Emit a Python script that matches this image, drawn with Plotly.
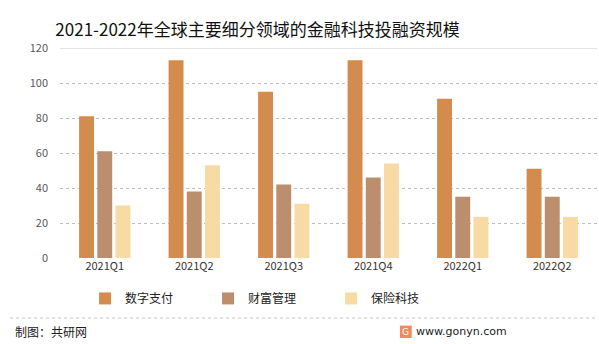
import plotly.graph_objects as go

categories = ["2021Q1", "2021Q2", "2021Q3", "2021Q4", "2022Q1", "2022Q2"]
digital_payment = [81, 113, 95, 113, 91, 51]
wealth_mgmt = [61, 38, 42, 46, 35, 35]
insurtech = [30, 53, 31, 54, 23.5, 23.5]
series_names = ["数字支付", "财富管理", "保险科技"]
y_ticks = [0, 20, 40, 60, 80, 100, 120]

colors = ["#D38C4E", "#BB8F6D", "#F8DAA5"]
FONT = "Noto Sans CJK SC"

fig = go.Figure()
for name, vals, c in zip(series_names, [digital_payment, wealth_mgmt, insurtech], colors):
    fig.add_trace(go.Bar(x=categories, y=vals, name=name, marker=dict(color=c, line=dict(width=0)),
                         hoverinfo="x+y+name"))

fig.update_layout(
    width=599, height=344,
    margin=dict(l=60, r=2, t=48, b=86),
    paper_bgcolor="white", plot_bgcolor="white",
    barmode="group", bargap=0.39, bargroupgap=0.18,
    font=dict(family=FONT, size=11, color="#595959"),
    title=dict(text="2021-2022年全球主要细分领域的金融科技投融资规模", x=0.43, xanchor="center",
               y=0.913, yanchor="middle", font=dict(family=FONT, size=17, color="#111111")),
    xaxis=dict(showgrid=False, showline=False, ticks="", tickfont=dict(size=11, color="#333333")),
    yaxis=dict(range=[0, 120], tickvals=y_ticks, showgrid=True, gridcolor="#BFBFBF", griddash="dot",
               gridwidth=1, zeroline=False, showline=False, ticks="", ticklabelstandoff=11,
               tickfont=dict(size=11, color="#595959")),
    showlegend=True,
    legend=dict(orientation="h", xref="container", yref="container", x=0.142, y=0.1325,
                xanchor="left", yanchor="middle", entrywidth=78, entrywidthmode="pixels",
                font=dict(family=FONT, size=12, color="#222222"), bgcolor="rgba(0,0,0,0)"),
    shapes=[
        dict(type="line", xref="paper", yref="y", x0=0, x1=1, y0=120, y1=120,
             line=dict(color="#D9D9D9", width=1.5)),
        dict(type="line", xref="paper", yref="paper", x0=-0.093, x1=1.0, y0=-0.286, y1=-0.286,
             line=dict(color="#C8C8C8", width=1, dash="dot")),
        dict(type="rect", xref="paper", yref="paper", x0=0.633, x1=0.655, y0=-0.381, y1=-0.322,
             fillcolor="#F08A5D", line=dict(width=0), layer="above"),
    ],
    annotations=[
        dict(text="制图：共研网", xref="paper", yref="paper", x=-0.088, y=-0.352, xanchor="left",
             yanchor="middle", showarrow=False, font=dict(family=FONT, size=12, color="#222222")),
        dict(text="G", xref="paper", yref="paper", x=0.644, y=-0.352, xanchor="center",
             yanchor="middle", showarrow=False, font=dict(family="DejaVu Sans", size=9, color="white")),
        dict(text="www.gonyn.com", xref="paper", yref="paper", x=0.66, y=-0.352, xanchor="left",
             yanchor="middle", showarrow=False, font=dict(family="DejaVu Sans", size=11, color="#222222")),
    ],
)

fig.write_html("out.html")
